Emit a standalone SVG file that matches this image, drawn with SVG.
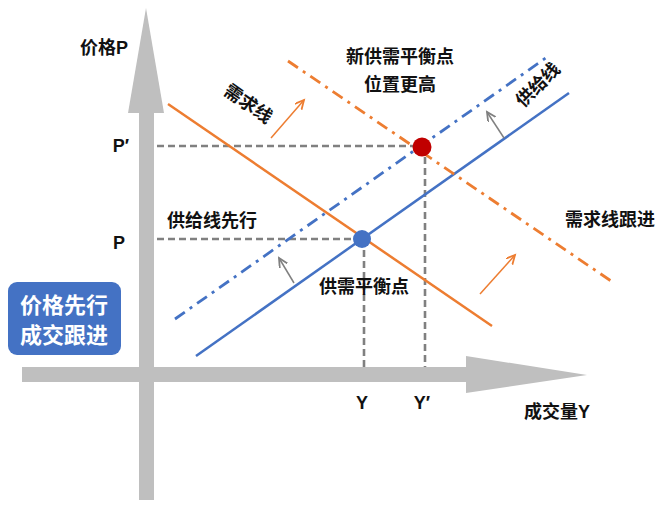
<svg xmlns="http://www.w3.org/2000/svg" width="660" height="507" viewBox="0 0 660 507">
<style>
text{font-family:"Liberation Sans","Noto Sans CJK SC",sans-serif;font-weight:bold;font-size:18px;fill:#111;text-anchor:middle;dominant-baseline:central}
.dash{stroke:#808080;stroke-width:2.6;stroke-dasharray:7 4;fill:none}
.arr{stroke-width:1.5;fill:none}
</style>
<defs>
<marker id="ao" markerWidth="8" markerHeight="8" refX="6" refY="3" orient="auto"><path d="M0,0 L6,3 L0,6" fill="none" stroke="#ED7D31" stroke-width="1.2"/></marker>
<marker id="ag" markerWidth="8" markerHeight="8" refX="6" refY="3" orient="auto"><path d="M0,0 L6,3 L0,6" fill="none" stroke="#808080" stroke-width="1.2"/></marker>
</defs>
<rect width="660" height="507" fill="#fff"/>
<g id="axes" fill="#BFBFBF">
<rect x="139" y="110" width="15" height="390"/>
<polygon points="128,113 146,8 164,113"/>
<rect x="22" y="367" width="446" height="15"/>
<polygon points="466,356 587,375 466,393"/>
</g>
<g id="connectors">
<line class="dash" x1="157" y1="146" x2="420" y2="146"/>
<line class="dash" x1="157" y1="239" x2="361" y2="239"/>
<line class="dash" x1="364" y1="239" x2="364" y2="367"/>
<line class="dash" x1="425" y1="146" x2="425" y2="367"/>
<line x1="168" y1="104" x2="492" y2="326" stroke="#ED7D31" stroke-width="2.5"/>
<line x1="196" y1="356" x2="569" y2="93" stroke="#4472C4" stroke-width="2.5"/>
<line x1="175" y1="319" x2="550" y2="55" stroke="#4472C4" stroke-width="2.8" stroke-dasharray="12 6 3 6"/>
<line x1="288" y1="61" x2="614" y2="283" stroke="#ED7D31" stroke-width="2.8" stroke-dasharray="12 6 3 6"/>
<line class="arr" stroke="#ED7D31" x1="271" y1="138" x2="304" y2="100" marker-end="url(#ao)"/>
<line class="arr" stroke="#ED7D31" x1="480" y1="294" x2="515" y2="255" marker-end="url(#ao)"/>
<line class="arr" stroke="#808080" x1="294" y1="283" x2="279" y2="258" marker-end="url(#ag)"/>
<line class="arr" stroke="#808080" x1="504" y1="138" x2="487" y2="112" marker-end="url(#ag)"/>
</g>
<g id="points">
<circle cx="422" cy="147" r="9.5" fill="#C00000"/>
<circle cx="362" cy="239" r="9" fill="#4472C4"/>
</g>
<g id="box">
<rect x="8" y="282" width="113" height="73" rx="9" fill="#4472C4"/>
<text x="64" y="305" style="fill:#fff;font-size:22px">价格先行</text>
<text x="64" y="335" style="fill:#fff;font-size:22px">成交跟进</text>
</g>
<g id="labels">
<text x="104" y="48">价格P</text>
<text x="121" y="146">P′</text>
<text x="119" y="243">P</text>
<text x="362" y="403">Y</text>
<text x="422" y="403">Y′</text>
<text x="557" y="412">成交量Y</text>
<text x="400" y="57">新供需平衡点</text>
<text x="400" y="85">位置更高</text>
<text transform="translate(248,104) rotate(35)">需求线</text>
<text transform="translate(538,85) rotate(-45)">供给线</text>
<text x="212" y="221">供给线先行</text>
<text x="610" y="220">需求线跟进</text>
<text x="364" y="287">供需平衡点</text>
</g>
</svg>
